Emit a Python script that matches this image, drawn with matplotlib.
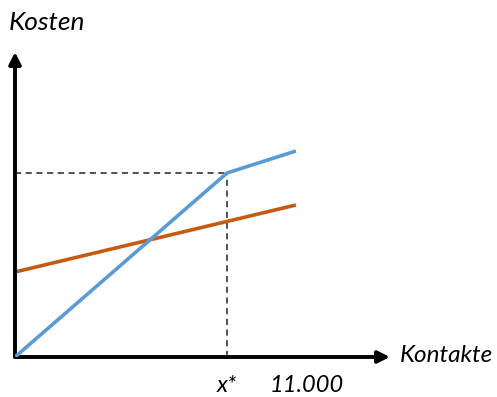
import matplotlib.pyplot as plt

# Kostenverlauf: Kontakte in Tausend, Kosten in beliebigen Einheiten
x_star = 8.0
x_max = 11.0
blue_x = [0.0, x_star, 10.6]
blue_y = [0.0, 18.4, 20.6]
orange_x = [0.0, 10.6]
orange_y = [8.5, 15.2]
tick_pos = [x_star, x_max]
tick_labels = ["x*", "11.000"]

plt.rcParams['font.family'] = ['Lato', 'DejaVu Sans']

fig = plt.figure(figsize=(4.97, 3.97), dpi=100)
W, H = 497, 397
ax = fig.add_axes([15 / W, 40 / H, 375 / W, 305 / H])
ax.set_xlim(0, 375 / 26.5)
ax.set_ylim(0, 30.5)
for s in ax.spines.values():
    s.set_visible(False)
ax.set_yticks([])

# Achsen als Pfeile
arrow = dict(arrowstyle='-|>,head_length=0.7,head_width=0.35', lw=2.8, color='black',
             shrinkA=0, shrinkB=0)
ax.annotate('', xy=(1, 0), xytext=(0, 0), xycoords='axes fraction',
            textcoords='axes fraction', arrowprops=arrow, annotation_clip=False)
ax.annotate('', xy=(0, 1), xytext=(0, 0), xycoords='axes fraction',
            textcoords='axes fraction', arrowprops=arrow, annotation_clip=False)

# Hilfslinien bei x*
k = blue_x.index(x_star)
ax.plot([0, x_star], [blue_y[k], blue_y[k]], color='#222222', lw=1.1,
        ls=(0, (4, 3)), zorder=1)
ax.plot([x_star, x_star], [0, blue_y[k]], color='#222222', lw=1.1,
        ls=(0, (4, 3)), zorder=1)

ax.plot(orange_x, orange_y, color='#C55A11', lw=2.6, solid_capstyle='butt', zorder=2)
ax.plot(blue_x, blue_y, color='#5B9BD5', lw=2.6, solid_capstyle='butt', zorder=3)

ax.set_xticks(tick_pos)
ax.set_xticklabels(tick_labels, fontsize=17, style='italic')
ax.tick_params(axis='x', length=0, pad=13)

fig.text(9 / W, 1 - 23 / H, "Kosten", fontsize=19, style='italic',
         ha='left', va='center')
fig.text(400 / W, 1 - 356 / H, "Kontakte", fontsize=17.5, style='italic',
         ha='left', va='center')

fig.savefig('out.png', dpi=100)
